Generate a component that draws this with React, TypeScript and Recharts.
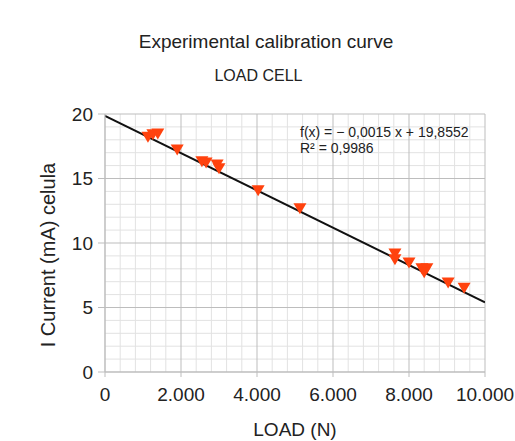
import { ComposedChart, Scatter, Line, XAxis, YAxis, ReferenceLine } from 'recharts'

// measured points (load in N, current in mA)
const loadN = [1130, 1260, 1390, 1900, 2550, 2660, 2950, 3000, 4030, 5130, 7630, 7630, 8000, 8340, 8470, 8400, 9030, 9450]
const currentMa = [18.2, 18.4, 18.45, 17.2, 16.3, 16.2, 16.05, 15.75, 14.05, 12.65, 9.15, 8.7, 8.45, 8.0, 8.0, 7.7, 6.9, 6.5]

// trend line end points as drawn
const trendX = [0, 10000]
const trendY = [19.8552, 5.4]

const xTicks = [0, 2000, 4000, 6000, 8000, 10000]
const yTicks = [0, 5, 10, 15, 20]
const xMinor = [400, 800, 1200, 1600, 2400, 2800, 3200, 3600, 4400, 4800, 5200, 5600, 6400, 6800, 7200, 7600, 8400, 8800, 9200, 9600]
const yMinor = [1, 2, 3, 4, 6, 7, 8, 9, 11, 12, 13, 14, 16, 17, 18, 19]

const points = loadN.map((x, i) => ({ x, y: currentMa[i] }))
const trend = trendX.map((x, i) => ({ x, y: trendY[i] }))

const FONT = '"Liberation Sans", Arial, sans-serif'
const MARKER = '#ff420e'

const fmtThousands = (v: number) =>
  v >= 1000 ? `${Math.floor(v / 1000)}.${String(v % 1000).padStart(3, '0')}` : String(v)

const DownTriangle = (props: any) => {
  const { cx, cy } = props
  if (cx == null || cy == null) return null
  return <polygon points={`${cx - 6.5},${cy - 5.5} ${cx + 6.5},${cy - 5.5} ${cx},${cy + 5.5}`} fill={MARKER} />
}

export default function App() {
  return (
    <div style={{ position: 'absolute', left: 0, top: 0, width: 515, height: 441, background: '#fff', fontFamily: FONT }}>
      <div style={{ position: 'absolute', left: 0, width: 532, top: 32, textAlign: 'center', fontSize: 19, lineHeight: '19px', color: '#222' }}>
        Experimental calibration curve
      </div>
      <div style={{ position: 'absolute', left: 0, width: 517, top: 68, textAlign: 'center', fontSize: 16, lineHeight: '16px', color: '#222' }}>
        LOAD CELL
      </div>

      <ComposedChart width={515} height={441} margin={{ top: 114, right: 30, bottom: 39, left: 0 }}>
        {xMinor.map((v) => (
          <ReferenceLine key={`mx-${v}`} x={v} stroke="#e2e2e2" strokeWidth={1} />
        ))}
        {yMinor.map((v) => (
          <ReferenceLine key={`my-${v}`} y={v} stroke="#e2e2e2" strokeWidth={1} />
        ))}
        {xTicks.map((v) => (
          <ReferenceLine key={`gx-${v}`} x={v} stroke="#bdbdbd" strokeWidth={1} />
        ))}
        {yTicks.map((v) => (
          <ReferenceLine key={`gy-${v}`} y={v} stroke="#bdbdbd" strokeWidth={1} />
        ))}
        <XAxis
          type="number"
          dataKey="x"
          domain={[0, 10000]}
          ticks={xTicks}
          tickFormatter={fmtThousands}
          height={30}
          stroke="#bdbdbd"
          tickSize={5}
          tickMargin={11}
          tick={{ fill: '#222', fontSize: 19, fontFamily: FONT }}
          allowDataOverflow
        />
        <YAxis
          type="number"
          dataKey="y"
          domain={[0, 20]}
          ticks={yTicks}
          width={105}
          stroke="#bdbdbd"
          tickSize={7}
          tickMargin={5}
          tick={{ fill: '#222', fontSize: 19, fontFamily: FONT }}
          allowDataOverflow
        />
        <Line data={trend} dataKey="y" type="linear" stroke="#111" strokeWidth={2} dot={false} isAnimationActive={false} />
        <Scatter data={points} dataKey="y" shape={DownTriangle} isAnimationActive={false} />
      </ComposedChart>

      <div style={{ position: 'absolute', left: 300, top: 124, fontSize: 14, lineHeight: '16px', color: '#222' }}>
        f(x) = − 0,0015 x + 19,8552
        <br />
        R² = 0,9986
      </div>

      <div style={{ position: 'absolute', left: 0, width: 590, top: 421, textAlign: 'center', fontSize: 19, lineHeight: '18px', color: '#222' }}>
        LOAD (N)
      </div>
      <div
        style={{
          position: 'absolute',
          left: 48 - 150,
          top: 255 - 10,
          width: 300,
          textAlign: 'center',
          fontSize: 20,
          lineHeight: '20px',
          color: '#222',
          transform: 'rotate(-90deg)',
          transformOrigin: 'center',
          whiteSpace: 'nowrap',
        }}
      >
        I Current (mA) celula
      </div>
    </div>
  )
}
